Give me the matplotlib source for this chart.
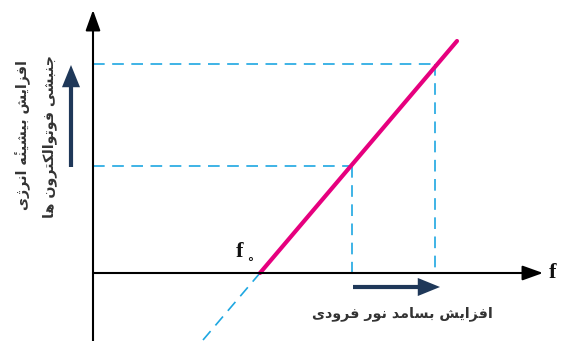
import matplotlib
matplotlib.use('Agg')
import matplotlib.pyplot as plt
from matplotlib.patches import FancyArrowPatch

# photoelectric effect: max kinetic energy vs frequency (arbitrary units)
f0 = 1.67                      # threshold frequency
freqs = [2.59, 3.42]           # two incident frequencies
k_at_freqs = [1.07, 2.09]      # kinetic energy at those frequencies
line_f = [1.67, 3.64]          # solid part of K = h(f - f0)
line_k = [0.0, 2.32]
ext_f = [1.10, 1.67]           # dashed extension below the axis
ext_k = [-0.67, 0.0]

y_label_lines = ['افزایش بیشینهٔ انرژی', 'جنبشی فوتوالکترون ها']
x_label = 'افزایش بسامد نور فرودی'

# matplotlib has no arabic shaping, so pick presentation forms by hand
FORMS = {
    'ا': ('\uFE8D', '\uFE8E', None, None),
    'ب': ('\uFE8F', '\uFE90', '\uFE91', '\uFE92'),
    'ت': ('\uFE95', '\uFE96', '\uFE97', '\uFE98'),
    'ج': ('\uFE9D', '\uFE9E', '\uFE9F', '\uFEA0'),
    'د': ('\uFEA9', '\uFEAA', None, None),
    'ر': ('\uFEAD', '\uFEAE', None, None),
    'ز': ('\uFEAF', '\uFEB0', None, None),
    'ژ': ('\uFB8A', '\uFB8B', None, None),
    'س': ('\uFEB1', '\uFEB2', '\uFEB3', '\uFEB4'),
    'ش': ('\uFEB5', '\uFEB6', '\uFEB7', '\uFEB8'),
    'ف': ('\uFED1', '\uFED2', '\uFED3', '\uFED4'),
    'ک': ('\uFB8E', '\uFB8F', '\uFB90', '\uFB91'),
    'ل': ('\uFEDD', '\uFEDE', '\uFEDF', '\uFEE0'),
    'م': ('\uFEE1', '\uFEE2', '\uFEE3', '\uFEE4'),
    'ن': ('\uFEE5', '\uFEE6', '\uFEE7', '\uFEE8'),
    'ه': ('\uFEE9', '\uFEEA', '\uFEEB', '\uFEEC'),
    'و': ('\uFEED', '\uFEEE', None, None),
    'ی': ('\uFBFC', '\uFBFD', '\uFBFE', '\uFBFF'),
}


def shape(text):
    out = []
    for i, ch in enumerate(text):
        forms = FORMS.get(ch)
        if forms is None:
            out.append(ch)
            continue
        j = i - 1
        while j >= 0 and text[j] == '\u0654':   # skip the hamza mark
            j -= 1
        k = i + 1
        while k < len(text) and text[k] == '\u0654':
            k += 1
        prev = FORMS.get(text[j]) if j >= 0 else None
        nxt = FORMS.get(text[k]) if k < len(text) else None
        join_prev = prev is not None and prev[2] is not None
        join_next = nxt is not None and forms[2] is not None
        if join_prev and join_next:
            out.append(forms[3])
        elif join_prev:
            out.append(forms[1])
        elif join_next:
            out.append(forms[2])
        else:
            out.append(forms[0])
    # reverse, but keep the combining hamza right after its letter
    vis = []
    i = len(out) - 1
    while i >= 0:
        if out[i] == '\u0654':
            vis.append(out[i - 1])
            vis.append(out[i])
            i -= 2
        else:
            vis.append(out[i])
            i -= 1
    return ''.join(vis)


magenta = '#e6007e'
cyan = '#1ea7e1'
navy = '#1f3859'

fig = plt.figure(figsize=(5.63, 3.41), dpi=100)
ax = fig.add_axes([0, 0, 1, 1])
ax.set_xlim(-0.93, 4.70)
ax.set_ylim(-0.68, 2.73)
ax.axis('off')

# axes with arrow heads
axis_style = '-|>,head_length=1.25,head_width=0.45'
ax.add_patch(FancyArrowPatch((0, -0.68), (0, 2.63), arrowstyle=axis_style,
                             mutation_scale=10, color='black', lw=1.5,
                             shrinkA=0, shrinkB=0, zorder=4))
ax.add_patch(FancyArrowPatch((0, 0), (4.50, 0), arrowstyle=axis_style,
                             mutation_scale=10, color='black', lw=1.5,
                             shrinkA=0, shrinkB=0, zorder=4))

# dashed guides
for f, k in zip(freqs, k_at_freqs):
    ax.plot([0, f], [k, k], color=cyan, lw=1.2, dashes=(7, 4.5), zorder=2)
    ax.plot([f, f], [k, 0], color=cyan, lw=1.2, dashes=(7, 4.5), zorder=2)
ax.plot(ext_f, ext_k, color=cyan, lw=1.2, dashes=(7, 4.5), zorder=2)

ax.plot(line_f, line_k, color=magenta, lw=3, solid_capstyle='round', zorder=3)

# direction arrows
big = 'simple,head_length=16,head_width=13,tail_width=3'
ax.add_patch(FancyArrowPatch((-0.22, 1.06), (-0.22, 2.08), arrowstyle=big,
                             mutation_scale=1, color=navy, lw=0,
                             shrinkA=0, shrinkB=0))
ax.add_patch(FancyArrowPatch((2.60, -0.14), (3.47, -0.14), arrowstyle=big,
                             mutation_scale=1, color=navy, lw=0,
                             shrinkA=0, shrinkB=0))

txt = dict(family='DejaVu Sans', fontweight='bold', color='#333333', fontsize=10.3)
ax.text(-0.70, 1.38, shape(y_label_lines[0]), rotation=90,
        ha='center', va='center', **txt)
ax.text(-0.43, 1.36, shape(y_label_lines[1]), rotation=90,
        ha='center', va='center', **txt)
ax.text(3.09, -0.41, shape(x_label), ha='center', va='center', **txt)

serif = dict(family='Liberation Serif', fontweight='bold', fontsize=16, color='#111111')
ax.text(1.47, 0.21, 'f', ha='center', va='center', **serif)
ax.text(1.57, 0.14, '\u2218', ha='center', va='center', fontsize=9,
        fontweight='bold', color='#111111')
ax.text(4.60, 0.0, 'f', ha='center', va='center', **serif)

fig.savefig('out.png', dpi=100)
